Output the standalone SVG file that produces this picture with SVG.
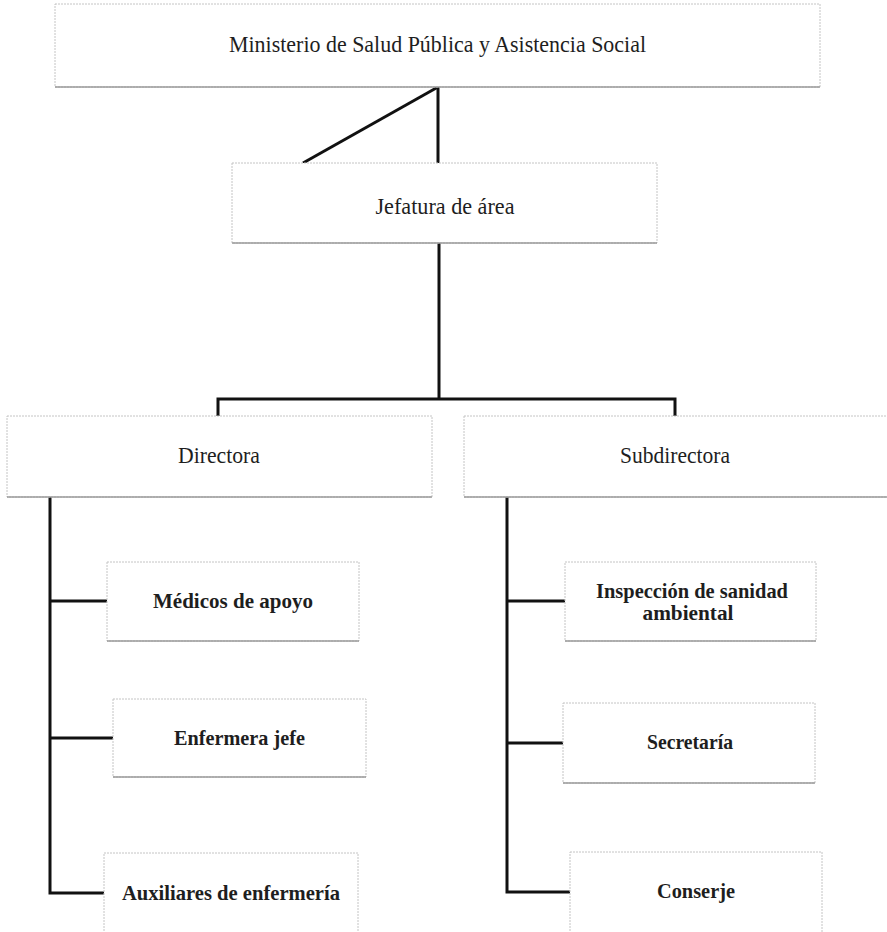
<svg xmlns="http://www.w3.org/2000/svg" width="887" height="932" viewBox="0 0 887 932">
<style>
.box{fill:#fff;stroke:#c4c4c4;stroke-width:1;stroke-dasharray:2 1}
.sh{stroke:#9a9a9a;stroke-width:1.5}
.t{font-family:"Liberation Serif","Times New Roman",serif;fill:#1e1e1e;text-anchor:middle}
.r{font-size:23px}
.b{font-size:21px;font-weight:bold}
.conn{fill:none;stroke:#111;stroke-width:3;stroke-linejoin:miter}
</style>
<rect width="887" height="932" fill="#fff"/>
<g id="connectors">
<line class="conn" x1="438" y1="87" x2="438" y2="163"/>
<line class="conn" x1="438" y1="87" x2="303" y2="163"/>
<polyline class="conn" points="439,243 439,399"/>
<polyline class="conn" points="218,416 218,399 675,399 675,416"/>
<polyline class="conn" points="50,497 50,893 105,893"/>
<line class="conn" x1="50" y1="601" x2="107" y2="601"/>
<line class="conn" x1="50" y1="738" x2="113" y2="738"/>
<polyline class="conn" points="507,497 507,892 570,892"/>
<line class="conn" x1="507" y1="601" x2="565" y2="601"/>
<line class="conn" x1="507" y1="743" x2="563" y2="743"/>
</g>
<g id="ministerio">
<rect class="box" x="55" y="4" width="765" height="83"/>
<line class="sh" x1="55" y1="87" x2="820" y2="87"/>
<text class="t r" x="437.5" y="52" font-size="24" textLength="417" lengthAdjust="spacingAndGlyphs">Ministerio de Salud Pública y Asistencia Social</text>
</g>
<g id="jefatura">
<rect class="box" x="232" y="163" width="425" height="80"/>
<line class="sh" x1="232" y1="243" x2="657" y2="243"/>
<text class="t r" x="445" y="214" textLength="139" lengthAdjust="spacingAndGlyphs">Jefatura de área</text>
</g>
<g id="directora">
<rect class="box" x="7" y="416" width="425" height="81"/>
<line class="sh" x1="7" y1="497" x2="432" y2="497"/>
<text class="t r" x="219" y="463" textLength="82" lengthAdjust="spacingAndGlyphs">Directora</text>
</g>
<g id="subdirectora">
<rect class="box" x="464" y="416" width="430" height="81"/>
<line class="sh" x1="464" y1="497" x2="887" y2="497"/>
<text class="t r" x="675" y="463" textLength="110" lengthAdjust="spacingAndGlyphs">Subdirectora</text>
</g>
<g id="medicos">
<rect class="box" x="107" y="562" width="252" height="79"/>
<line class="sh" x1="107" y1="641" x2="359" y2="641"/>
<text class="t b" x="233" y="608" textLength="160" lengthAdjust="spacingAndGlyphs">Médicos de apoyo</text>
</g>
<g id="enfermera">
<rect class="box" x="113" y="699" width="253" height="78"/>
<line class="sh" x1="113" y1="777" x2="366" y2="777"/>
<text class="t b" x="239.5" y="745" textLength="131" lengthAdjust="spacingAndGlyphs">Enfermera jefe</text>
</g>
<g id="auxiliares">
<rect class="box" x="104" y="853" width="254" height="85"/>
<text class="t b" x="231" y="900" textLength="218" lengthAdjust="spacingAndGlyphs">Auxiliares de enfermería</text>
</g>
<g id="inspeccion">
<rect class="box" x="565" y="562" width="251" height="79"/>
<line class="sh" x1="565" y1="641" x2="816" y2="641"/>
<text class="t b" x="692" y="598" textLength="192" lengthAdjust="spacingAndGlyphs">Inspección de sanidad</text>
<text class="t b" x="688" y="620" textLength="91" lengthAdjust="spacingAndGlyphs">ambiental</text>
</g>
<g id="secretaria">
<rect class="box" x="563" y="703" width="252" height="80"/>
<line class="sh" x1="563" y1="783" x2="815" y2="783"/>
<text class="t b" x="690" y="749" textLength="86" lengthAdjust="spacingAndGlyphs">Secretaría</text>
</g>
<g id="conserje">
<rect class="box" x="570" y="852" width="252" height="86"/>
<text class="t b" x="696" y="898" textLength="78" lengthAdjust="spacingAndGlyphs">Conserje</text>
</g>
</svg>
